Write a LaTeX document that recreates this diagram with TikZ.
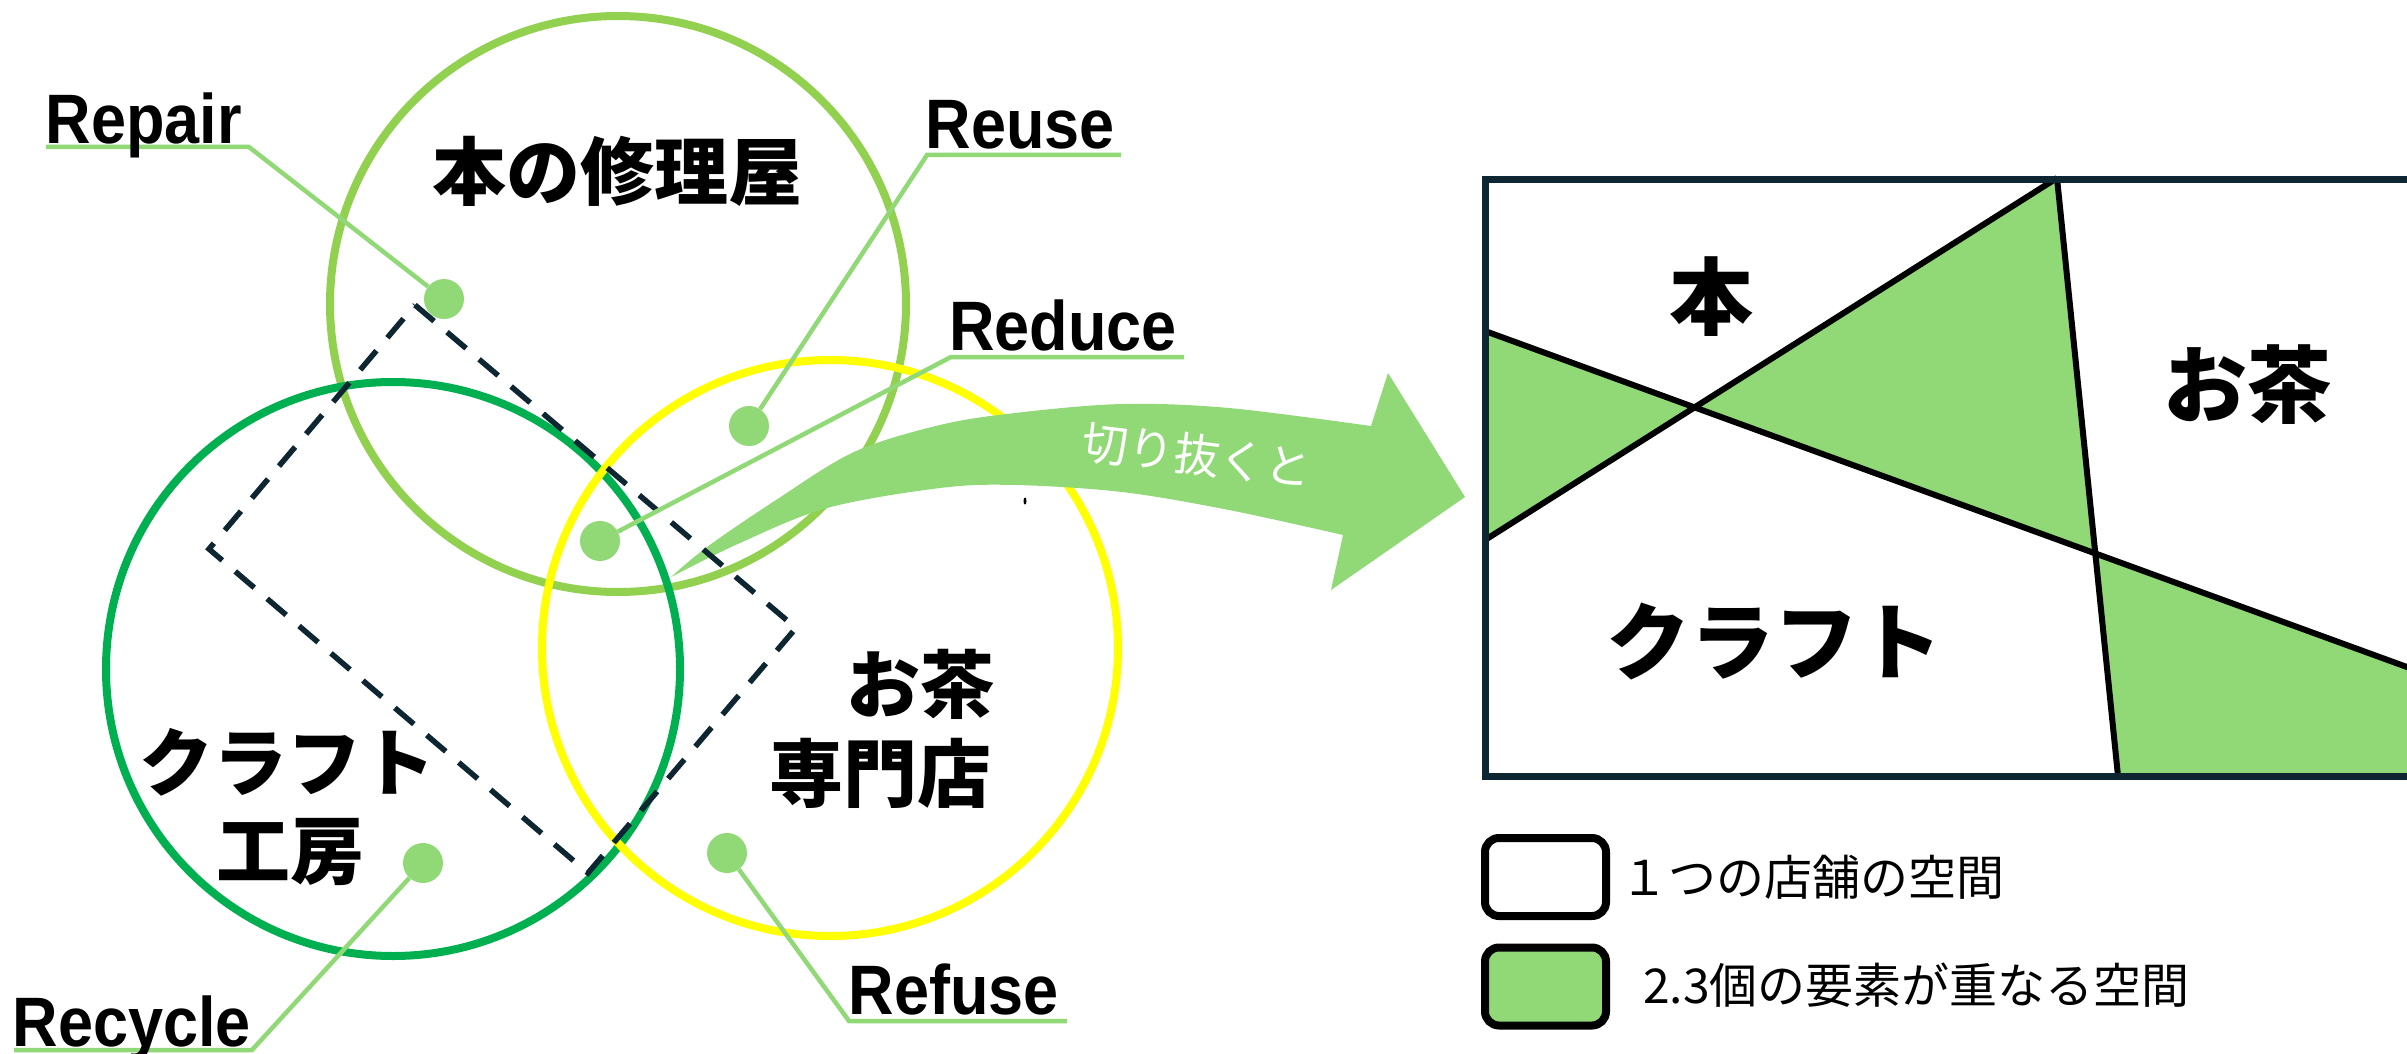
\documentclass[tikz,border=0pt]{standalone}
\usepackage{fontspec}
\newfontfamily\jpfont{Noto Sans CJK JP}
\newfontfamily\enfont{Liberation Sans}
\usetikzlibrary{calc}
\definecolor{cgreenA}{HTML}{92D050}
\definecolor{cgreenB}{HTML}{00B050}
\definecolor{cyellow}{HTML}{FFFF00}
\definecolor{clight}{RGB}{145,217,119}
\definecolor{cnavy}{HTML}{0E2532}
\begin{document}
\begin{tikzpicture}[x=1pt,y=-1pt,
  ring/.style={circle, draw, line width=8pt, minimum size=#1, inner sep=0pt},
  dotnode/.style={circle, fill=clight, minimum size=40pt, inner sep=0pt},
  lead/.style={draw=clight, line width=4.5pt},
  biglabel/.style={font=\jpfont\bfseries\fontsize{74}{80}\selectfont, inner sep=0pt},
  enlabel/.style={font=\enfont\bfseries\fontsize{70}{80}\selectfont, inner sep=0pt, anchor=base west},
  rectlabel/.style={font=\jpfont\bfseries\fontsize{84}{90}\selectfont, inner sep=0pt},
  legtext/.style={font=\jpfont\fontsize{48}{52}\selectfont, inner sep=0pt, anchor=west},
  legbox/.style={draw=black, line width=8pt, rounded corners=14pt, minimum width=121pt, minimum height=78pt, inner sep=0pt},
  cutline/.style={line width=6pt, draw=black}]
\useasboundingbox (0,0) rectangle (2407,1054);
\clip (0,0) rectangle (2407,1054);
\fill[white] (0,0) rectangle (2407,1054);

% circles
\node[ring=576pt, draw=cgreenA] (shopBook) at (618,304) {};
\node[ring=574pt, draw=cgreenB] (shopCraft) at (393,669) {};
\node[ring=576pt, draw=cyellow] (shopTea) at (830,648) {};

% curved arrow
\fill[clight] plot[smooth, tension=0.55] coordinates {(671,577) (707,547) (773,502) (854,452) (940,425) (1015,413) (1122,404) (1229,408) (1371,426)}
  -- (1388,373) -- (1465,497) -- (1331,590) -- (1343,535)
  -- plot[smooth, tension=0.55] coordinates {(1343,535) (1229,510) (1122,492) (1015,485) (940,488) (827,508) (740,543) (671,577)} -- cycle;
\node[rotate=-7, font=\jpfont\fontsize{46}{50}\selectfont, text=white, inner sep=0pt] (cutText) at (1197,455) {切り抜くと};
\fill[black] (1025,501) ellipse [x radius=1.5pt, y radius=3.5pt];

% dashed cut-out
\draw[cnavy, line width=5.5pt, dash pattern=on 25pt off 17pt] (415,305) -- (796,628) -- (588,873) -- (209,549) -- cycle;

% dots
\node[dotnode] (dRepair) at (444,299) {};
\node[dotnode] (dReuse) at (749,426) {};
\node[dotnode] (dReduce) at (600,541) {};
\node[dotnode] (dRecycle) at (423,863) {};
\node[dotnode] (dRefuse) at (727,853) {};

% leader lines
\coordinate (uRepairA) at (46,147);   \coordinate (uRepairB) at (249,147);
\coordinate (uReuseA) at (1121,155);  \coordinate (uReuseB) at (927,155);
\coordinate (uReduceA) at (1184,357); \coordinate (uReduceB) at (951,357);
\coordinate (uRecycleA) at (14,1050); \coordinate (uRecycleB) at (252,1050);
\coordinate (uRefuseA) at (1067,1021);\coordinate (uRefuseB) at (849,1021);
\draw[lead] (uRepairA) -- (uRepairB) -- (dRepair);
\draw[lead] (uReuseA) -- (uReuseB) -- (dReuse);
\draw[lead] (uReduceA) -- (uReduceB) -- (dReduce);
\draw[lead] (uRecycleA) -- (uRecycleB) -- (dRecycle);
\draw[lead] (uRefuseA) -- (uRefuseB) -- (dRefuse);

% English labels
\node[enlabel] (tRepair) at (45.5,143) {\scalebox{0.9}[1]{Repair}};
\node[enlabel] (tReuse) at (925.5,149) {\scalebox{0.9}[1]{Reuse}};
\node[enlabel] (tReduce) at (949,350) {\scalebox{0.9}[1]{Reduce}};
\node[enlabel] (tRecycle) at (12.5,1046) {\scalebox{0.9}[1]{Recycle}};
\node[enlabel] (tRefuse) at (848.5,1014) {\scalebox{0.9}[1]{Refuse}};

% circle labels
\node[biglabel] (lBook) at (617,171) {本の修理屋};
\node[biglabel] (lCraftA) at (287,762) {クラフト};
\node[biglabel] (lCraftB) at (290,852) {工房};
\node[biglabel] (lTeaA) at (920,684) {お茶};
\node[biglabel] (lTeaB) at (880,773) {専門店};

% right panel
\coordinate (pA1) at (1485,331); \coordinate (pA2) at (2450,682.7);
\coordinate (pB1) at (1485,540); \coordinate (pTop) at (2057,178); \coordinate (pBot) at (2118,776);
\coordinate (xAB) at (1694.3,407.3); \coordinate (xAC) at (2095.3,553.5);
\fill[clight] (pA1) -- (xAB) -- (pB1) -- cycle;
\fill[clight] (xAB) -- (pTop) -- (xAC) -- cycle;
\fill[clight] (xAC) -- (pA2) -- (2450,776) -- (pBot) -- cycle;
\draw[cutline] (pA1) -- (pA2);
\draw[cutline] (pB1) -- (pTop);
\draw[cutline] (pTop) -- (pBot);
\draw[cnavy, line width=7pt] (1485,179) rectangle (2460,776.5);
\node[rectlabel] (rBook) at (1711,297) {本};
\node[rectlabel] (rCraft) at (1774,641) {クラフト};
\node[rectlabel] (rTea) at (2247,385) {お茶};

% legend
\node[legbox, fill=white] (key1) at (1545.5,877) {};
\node[legbox, fill=clight] (key2) at (1545.5,986.5) {};
\node[legtext] (keyText1) at (1620,877) {１つの店舗の空間};
\node[legtext] (keyText2) at (1643,985) {2.3個の要素が重なる空間};
\end{tikzpicture}
\end{document}
